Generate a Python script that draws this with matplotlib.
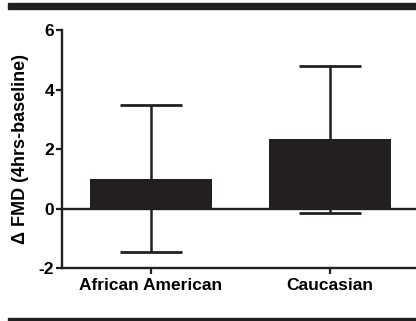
import matplotlib
matplotlib.use('Agg')
import matplotlib.pyplot as plt
from matplotlib.patches import Rectangle

plt.rcParams['font.family'] = ['Liberation Sans', 'DejaVu Sans']
plt.rcParams['font.weight'] = 'bold'
plt.rcParams['axes.unicode_minus'] = False

# 데이터
groups = ['African American', 'Caucasian']
means = [1.0, 2.33]
sems = [2.47, 2.47]
yticks = [-2, 0, 2, 4, 6]

ink = '#231f20'

fig = plt.figure(figsize=(4.16, 3.21), dpi=100)
ax = fig.add_axes([0.149, 0.165, 0.851, 0.7415])

x = range(len(groups))
ax.errorbar(x, means, yerr=sems, fmt='none', ecolor=ink, elinewidth=1.8,
            capsize=22, capthick=2.0, zorder=1)
ax.bar(x, means, width=0.68, color=ink, zorder=2)
ax.axhline(0, color=ink, linewidth=1.7, zorder=3)

ax.set_xlim(-0.497, 1.48)
ax.set_ylim(-2, 6)
ax.set_yticks(yticks)
ax.set_xticks(list(x))
ax.set_xticklabels(groups, fontsize=12.5, fontweight='bold')
ax.tick_params(axis='y', labelsize=12.5, width=1.6, length=4, color=ink, pad=1.5)
ax.tick_params(axis='x', width=1.6, length=4, color=ink, pad=3)
for lab in ax.get_yticklabels():
    lab.set_fontweight('bold')

ax.spines['top'].set_visible(False)
ax.spines['right'].set_visible(False)
ax.spines['left'].set_linewidth(1.7)
ax.spines['bottom'].set_linewidth(1.7)
ax.spines['left'].set_color(ink)
ax.spines['bottom'].set_color(ink)

ax.set_ylabel('\u0394 FMD (4hrs-baseline)', fontsize=13, fontweight='bold',
              labelpad=7)

# 위, 아래 굵은 띠
fig.patches.append(Rectangle((8 / 416, 1 - 9 / 321), 1, 6 / 321,
                             transform=fig.transFigure, color=ink))
fig.patches.append(Rectangle((8 / 416, 0), 1, 3.5 / 321,
                             transform=fig.transFigure, color=ink))

fig.savefig('out.png', dpi=100)
